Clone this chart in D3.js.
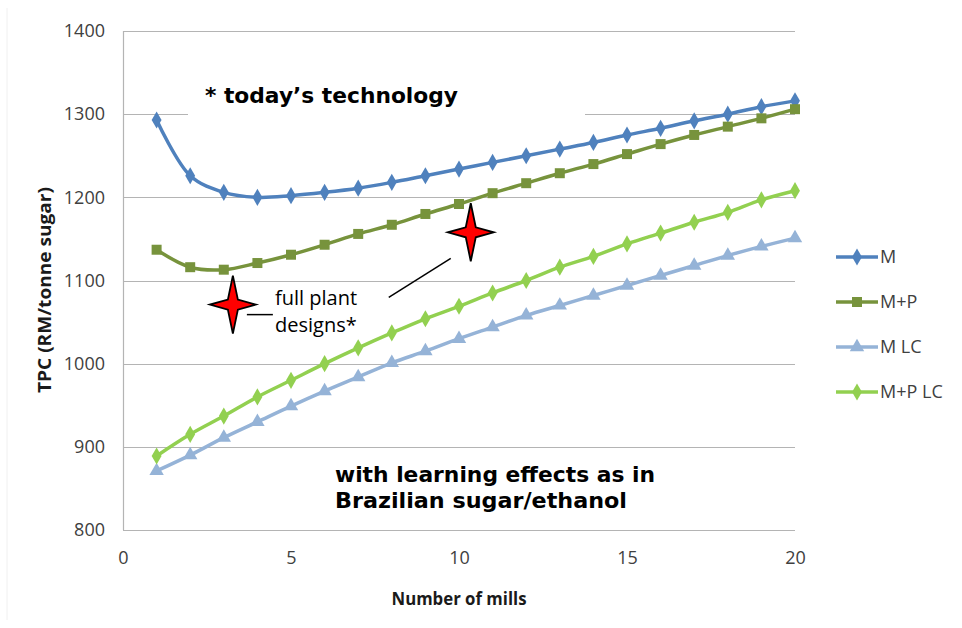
<!DOCTYPE html>
<html><head><meta charset="utf-8">
<script src="https://cdn.jsdelivr.net/npm/d3@7/dist/d3.min.js"></script>
<style>
html,body{margin:0;padding:0;background:#fff;}
svg{display:block;}
</style></head>
<body>
<svg id="chart" width="962" height="628"></svg>
<script>
const mills = d3.range(1, 21);
const seriesNames = ["M", "M+P", "M LC", "M+P LC"];
const valuesM    = [1293,1226,1206,1200,1202,1206,1211,1218,1226,1234,1242,1250,1258,1266,1275,1283,1292,1300,1309,1316];
const valuesMP   = [1137,1116,1113,1121,1131,1143,1156,1167,1180,1192,1205,1217,1229,1240,1252,1264,1275,1285,1295,1306];
const valuesMLC  = [871,890,911,930,949,967,984,1001,1015,1030,1044,1058,1070,1082,1094,1106,1118,1130,1141,1151];
const valuesMPLC = [889,915,937,960,980,1000,1019,1037,1054,1069,1085,1100,1116,1129,1144,1157,1170,1182,1197,1208];
const xTicks = [0,5,10,15,20];
const yTicks = [800,900,1000,1100,1200,1300,1400];
const colors = ["#4f81bd","#77933c","#95b3d7","#92d050"];
const symbols = ["diamond","square","triangle","diamond"];
const starPoints = [[3.27,1071],[10.35,1158]];

const svg = d3.select("#chart");
const x = d3.scaleLinear().domain([0,20]).range([123,795]);
const y = d3.scaleLinear().domain([800,1400]).range([530,31]);

// faint outer frame
svg.append("line").attr("x1",7).attr("x2",7).attr("y1",8).attr("y2",620)
  .attr("stroke","#f0f0f0").attr("stroke-width",1);

// gridlines
svg.append("g").selectAll("line").data(yTicks).join("line")
  .attr("x1",x(0)).attr("x2",x(20))
  .attr("y1",d=>Math.round(y(d))+0.5).attr("y2",d=>Math.round(y(d))+0.5)
  .attr("stroke","#b4b4b4").attr("stroke-width",1.2);
svg.append("line").attr("x1",x(0)+0.5).attr("x2",x(0)+0.5).attr("y1",y(1400)).attr("y2",y(800))
  .attr("stroke","#b4b4b4").attr("stroke-width",1.2);

// tick labels
const font = "'Open Sans', 'Liberation Sans', sans-serif";
const yAxis = d3.axisLeft(y).tickValues(yTicks).tickFormat(d3.format("d")).tickSize(0).tickPadding(18);
const gy = svg.append("g").attr("transform",`translate(${x(0)},0)`).call(yAxis);
gy.select(".domain").remove();
gy.selectAll("text").attr("font-family",font).attr("font-size",18).attr("fill","#404040");
const xAxis = d3.axisBottom(x).tickValues(xTicks).tickFormat(d3.format("d")).tickSize(0).tickPadding(21);
const gx = svg.append("g").attr("transform",`translate(0,${y(800)})`).call(xAxis);
gx.select(".domain").remove();
gx.selectAll("text").attr("font-family",font).attr("font-size",18).attr("fill","#404040");

// axis titles
svg.append("text").attr("transform","translate(51,290) rotate(-90)")
  .attr("text-anchor","middle").attr("font-family",font).attr("font-weight","bold")
  .attr("font-size",18).attr("fill","#1a1a1a")
  .attr("textLength",206).attr("lengthAdjust","spacingAndGlyphs")
  .text("TPC (RM/tonne sugar)");
svg.append("text").attr("x",459).attr("y",605)
  .attr("text-anchor","middle").attr("font-family",font).attr("font-weight","bold")
  .attr("font-size",18).attr("fill","#1a1a1a")
  .attr("textLength",135).attr("lengthAdjust","spacingAndGlyphs")
  .text("Number of mills");

// annotation text box (covers gridline)
svg.append("rect").attr("x",188).attr("y",76).attr("width",397).attr("height",42).attr("fill","#fff");
svg.append("text").attr("x",205).attr("y",103)
  .attr("font-family","'DejaVu Sans', Verdana, sans-serif").attr("font-weight","bold")
  .attr("font-size",22).attr("fill","#000")
  .attr("textLength",253).attr("lengthAdjust","spacingAndGlyphs")
  .text("* today\u2019s technology");

// series
const allValues = [valuesM, valuesMP, valuesMLC, valuesMPLC];
const symType = {diamond:d3.symbolDiamond, square:d3.symbolSquare, triangle:d3.symbolTriangle};
const symSize = {diamond:85, square:100, triangle:90};
const line = d3.line().x((d,i)=>x(mills[i])).y(d=>y(d)).curve(d3.curveCatmullRom.alpha(0.5));
allValues.forEach((vals,k)=>{
  const g = svg.append("g");
  g.append("path").datum(vals).attr("d",line).attr("fill","none")
    .attr("stroke",colors[k]).attr("stroke-width",3.5).attr("stroke-linejoin","round");
  g.selectAll("path.pt").data(vals).join("path").attr("class","pt")
    .attr("transform",(d,i)=>`translate(${x(mills[i])},${y(d)})`)
    .attr("d",d3.symbol().type(symType[symbols[k]]).size(symSize[symbols[k]]))
    .attr("fill",colors[k]);
});

// legend
const lg = svg.append("g");
seriesNames.forEach((name,k)=>{
  const ly = 257 + k*45;
  lg.append("line").attr("x1",836).attr("x2",878).attr("y1",ly).attr("y2",ly)
    .attr("stroke",colors[k]).attr("stroke-width",3.5);
  lg.append("path").attr("transform",`translate(857,${ly})`)
    .attr("d",d3.symbol().type(symType[symbols[k]]).size(symSize[symbols[k]]))
    .attr("fill",colors[k]);
  lg.append("text").attr("x",880).attr("y",ly).attr("dy","0.35em")
    .attr("font-family",font).attr("font-size",18).attr("fill","#404040").text(name);
});

// stars
function starPath(cx,cy,rx,ry,r){
  return `M${cx},${cy-ry} L${cx+r},${cy-r} L${cx+rx},${cy} L${cx+r},${cy+r} L${cx},${cy+ry} L${cx-r},${cy+r} L${cx-rx},${cy} L${cx-r},${cy-r} Z`;
}
starPoints.forEach(p=>{
  svg.append("path").attr("d",starPath(x(p[0]),y(p[1]),23,29,5))
    .attr("fill","#ff0000").attr("stroke","#000").attr("stroke-width",1.8).attr("stroke-linejoin","miter");
});
// connectors
svg.append("line").attr("x1",x(starPoints[0][0])+14).attr("x2",x(starPoints[0][0])+40)
  .attr("y1",y(starPoints[0][1])+10).attr("y2",y(starPoints[0][1])+10)
  .attr("stroke","#000").attr("stroke-width",1.5);
svg.append("line").attr("x1",x(starPoints[1][0])-82).attr("y1",y(starPoints[1][1])+65)
  .attr("x2",x(starPoints[1][0])-20).attr("y2",y(starPoints[1][1])+26)
  .attr("stroke","#000").attr("stroke-width",1.5);

// full plant designs text
const fp = svg.append("text").attr("font-family",font).attr("font-size",20).attr("fill","#000");
fp.append("tspan").attr("x",275).attr("y",305).text("full plant");
fp.append("tspan").attr("x",275).attr("y",332).text("designs*");

// learning effects text
const le = svg.append("text").attr("font-family","'DejaVu Sans', Verdana, sans-serif")
  .attr("font-weight","bold").attr("font-size",20.5).attr("fill","#000");
le.append("tspan").attr("x",335).attr("y",482).attr("textLength",320).attr("lengthAdjust","spacingAndGlyphs").text("with learning effects as in");
le.append("tspan").attr("x",335).attr("y",508).attr("textLength",292).attr("lengthAdjust","spacingAndGlyphs").text("Brazilian sugar/ethanol");
</script>
</body></html>
